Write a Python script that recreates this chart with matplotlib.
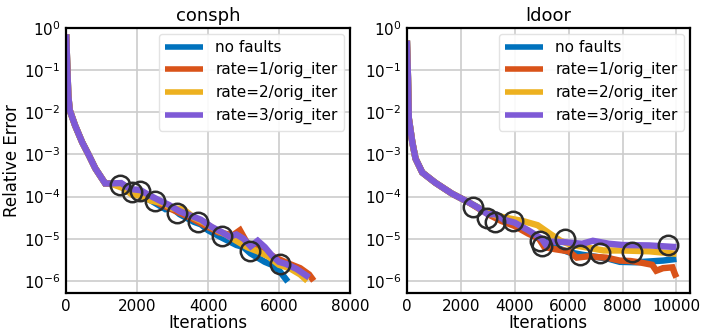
import numpy as np
import matplotlib.pyplot as plt
from matplotlib.ticker import NullLocator

# relative error is stored as log10 exponents, read per run
# --- consph ---
consph_start_it = [0, 30, 60, 100, 250, 450, 640, 820, 1100, 1250]
consph_start_err = [-0.15, -0.9, -1.6, -1.95, -2.31, -2.71, -3.02, -3.33, -3.69, -3.69]

consph_nofault_it = [1250, 1600, 2000, 2400, 2800, 3000, 3200, 3600, 3800, 4000, 4400, 4800, 5000, 5200, 5600, 5800, 6000, 6250]
consph_nofault_err = [-3.69, -3.75, -3.95, -4.1, -4.3, -4.28, -4.42, -4.6, -4.66, -4.8, -4.98, -5.15, -5.2, -5.35, -5.55, -5.62, -5.75, -6.02]

consph_r1_it = [1250, 1600, 1900, 2300, 2700, 3100, 3500, 3900, 4300, 4700, 4900, 5100, 5500, 5900, 6300, 6600, 6850, 6980]
consph_r1_err = [-3.69, -3.72, -3.88, -4.02, -4.2, -4.35, -4.5, -4.68, -4.85, -4.92, -4.8, -5.1, -5.25, -5.45, -5.6, -5.7, -5.85, -6.0]

consph_r2_it = [1250, 1600, 1850, 2100, 2400, 2700, 3000, 3300, 3600, 3900, 4200, 4500, 4800, 5100, 5400, 5700, 6000, 6300, 6600, 6800]
consph_r2_err = [-3.69, -3.8, -3.95, -3.98, -4.1, -4.15, -4.28, -4.3, -4.5, -4.62, -4.78, -4.9, -5.05, -5.2, -5.3, -5.42, -5.62, -5.7, -5.85, -6.0]

consph_r3_it = [1250, 1550, 1800, 2100, 2300, 2600, 2900, 3200, 3500, 3800, 4100, 4400, 4600, 4800, 5000, 5200, 5400, 5600, 5800, 6000, 6200, 6500, 6850]
consph_r3_err = [-3.69, -3.68, -3.82, -3.85, -3.95, -4.08, -4.2, -4.35, -4.45, -4.55, -4.72, -4.85, -4.95, -4.9, -5.0, -5.18, -5.05, -5.2, -5.4, -5.55, -5.6, -5.72, -5.92]

consph_fault_it = [1520, 1850, 2090, 2510, 3120, 3730, 4400, 5190, 6030]
consph_fault_err = [-3.72, -3.9, -3.88, -4.1, -4.38, -4.6, -4.93, -5.29, -5.6]

# --- ldoor ---
ldoor_start_it = [0, 40, 70, 200, 320, 570, 1050, 1670, 2300]
ldoor_start_err = [-0.3, -1.2, -2.14, -2.71, -3.1, -3.43, -3.67, -3.93, -4.14]

ldoor_nofault_it = [2300, 2700, 3100, 3500, 4000, 4500, 5000, 5500, 6000, 6500, 7000, 7500, 7900, 8500, 9000, 9500, 10000]
ldoor_nofault_err = [-4.14, -4.28, -4.42, -4.55, -4.68, -4.85, -5.02, -5.2, -5.32, -5.38, -5.43, -5.48, -5.55, -5.56, -5.54, -5.52, -5.48]

ldoor_r1_it = [2300, 2700, 3100, 3500, 4000, 4500, 4900, 5100, 5500, 6000, 6300, 6700, 7400, 7900, 8300, 8700, 9100, 9250, 9500, 9850, 9950, 10000]
ldoor_r1_err = [-4.14, -4.3, -4.45, -4.58, -4.7, -4.88, -5.0, -5.2, -5.25, -5.3, -5.45, -5.42, -5.45, -5.52, -5.53, -5.57, -5.62, -5.76, -5.7, -5.68, -5.85, -5.92]

ldoor_r2_it = [2300, 2800, 3300, 3800, 4300, 4850, 5300, 5700, 6100, 6600, 7300, 8000, 9000, 9500, 10000]
ldoor_r2_err = [-4.14, -4.32, -4.45, -4.52, -4.58, -4.68, -4.88, -5.05, -5.15, -5.2, -5.28, -5.28, -5.3, -5.33, -5.36]

ldoor_r3_it = [2300, 2600, 3000, 3300, 3600, 4000, 4500, 5000, 5150, 5300, 5800, 6500, 6900, 7500, 8000, 9000, 10000]
ldoor_r3_err = [-4.14, -4.25, -4.42, -4.42, -4.55, -4.62, -4.8, -5.0, -5.14, -5.07, -5.08, -5.12, -5.05, -5.12, -5.15, -5.16, -5.2]

ldoor_fault_it = [2460, 2960, 3270, 3930, 4940, 5010, 5860, 6420, 7170, 8350, 9680]
ldoor_fault_err = [-4.26, -4.5, -4.61, -4.57, -5.05, -5.17, -5.0, -5.38, -5.35, -5.31, -5.15]

labels = ['no faults', 'rate=1/orig_iter', 'rate=2/orig_iter', 'rate=3/orig_iter']
colors = ['#0072BD', '#D95319', '#EDB120', '#7E5AD6']

plt.rcParams['font.family'] = 'DejaVu Sans'


def join(start_it, start_err, it, err):
    x = np.array(start_it[:-1] + it, dtype=float)
    y = 10.0 ** np.array(start_err[:-1] + err)
    return x, y


def draw(ax, title, start, runs, faults, xmax, xticks):
    for (it, err), lab, c in zip(runs, labels, colors):
        x, y = join(start[0], start[1], it, err)
        ax.plot(x, y, color=c, lw=4.6, label=lab, solid_capstyle='butt',
                solid_joinstyle='miter')
    ax.plot(faults[0], 10.0 ** np.array(faults[1]), 'o', ms=14, mfc='none',
            mec='#2b2b2b', mew=1.8, ls='none')
    ax.set_yscale('log')
    ax.set_ylim(10 ** -6.29, 1)
    ax.set_xlim(0, xmax)
    ax.set_xticks(xticks)
    ax.set_yticks([10.0 ** k for k in range(-6, 1)])
    ax.yaxis.set_minor_locator(NullLocator())
    ax.grid(True, color='#cccccc', lw=1.2)
    ax.set_axisbelow(True)
    ax.tick_params(length=0, pad=4, labelsize=11)
    for s in ax.spines.values():
        s.set_linewidth(1.6)
        s.set_color('black')
    ax.set_title(title, fontsize=13, pad=5)
    ax.set_xlabel('Iterations', fontsize=12, labelpad=0)
    leg = ax.legend(loc='upper right', fontsize=11, handlelength=2.5,
                    framealpha=0.9, borderaxespad=0.4, labelspacing=0.45)
    leg.get_frame().set_edgecolor('#e0e0e0')
    for h in leg.get_lines():
        h.set_linewidth(4)


fig = plt.figure(figsize=(7.04, 3.33), dpi=100)
ax1 = fig.add_axes([0.094, 0.120, 0.403, 0.796])
ax2 = fig.add_axes([0.578, 0.120, 0.402, 0.796])

draw(ax1, 'consph', (consph_start_it, consph_start_err),
     [(consph_nofault_it, consph_nofault_err), (consph_r1_it, consph_r1_err),
      (consph_r2_it, consph_r2_err), (consph_r3_it, consph_r3_err)],
     (consph_fault_it, consph_fault_err), 8000, [0, 2000, 4000, 6000, 8000])
draw(ax2, 'ldoor', (ldoor_start_it, ldoor_start_err),
     [(ldoor_nofault_it, ldoor_nofault_err), (ldoor_r1_it, ldoor_r1_err),
      (ldoor_r2_it, ldoor_r2_err), (ldoor_r3_it, ldoor_r3_err)],
     (ldoor_fault_it, ldoor_fault_err), 10500, [0, 2000, 4000, 6000, 8000, 10000])
ax1.set_ylabel('Relative Error', fontsize=12, labelpad=2)

fig.savefig('out.png', dpi=100)
